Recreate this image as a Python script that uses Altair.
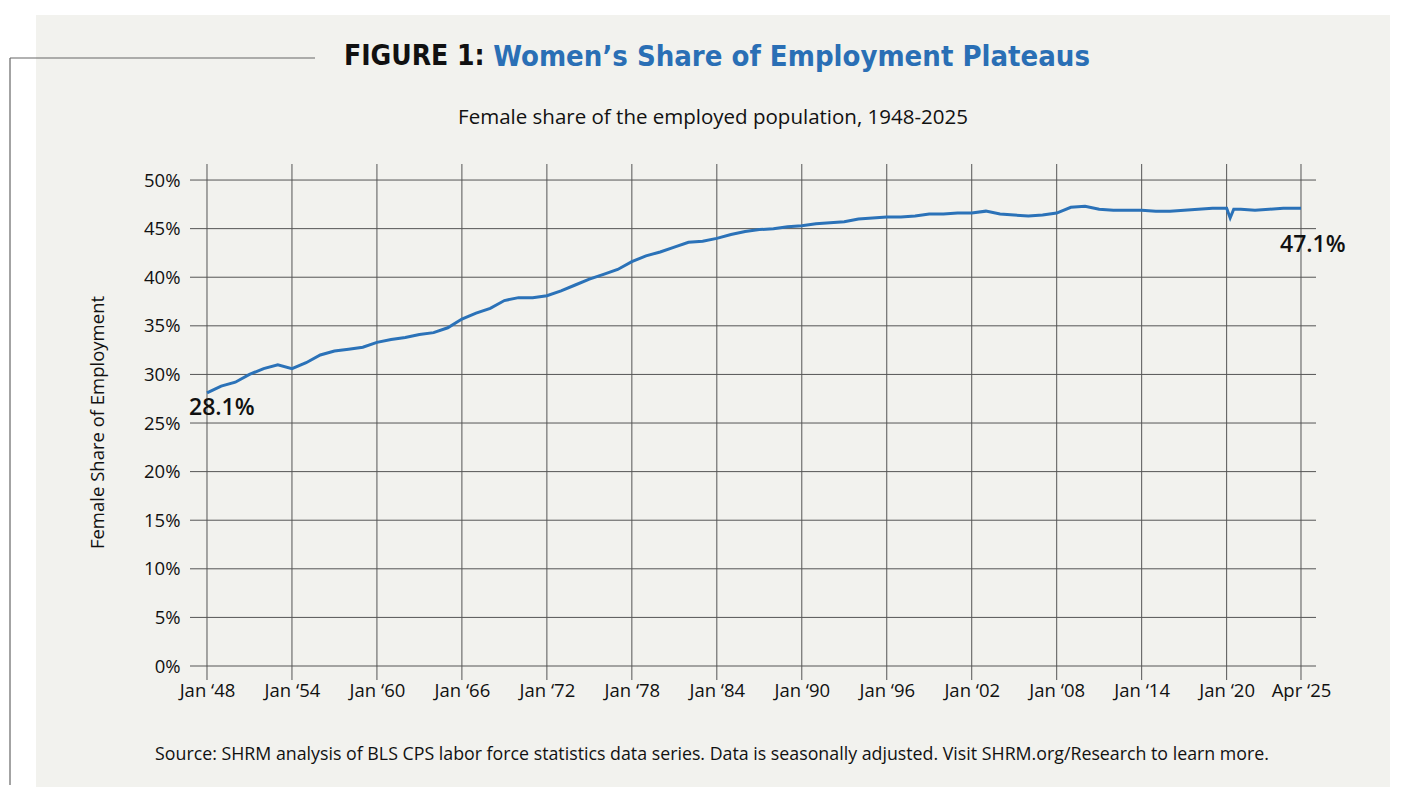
import altair as alt
import pandas as pd

years = [1948, 1949, 1950, 1951, 1952, 1953, 1954, 1955, 1956, 1957, 1958, 1959,
         1960, 1961, 1962, 1963, 1964, 1965, 1966, 1967, 1968, 1969, 1970, 1971,
         1972, 1973, 1974, 1975, 1976, 1977, 1978, 1979, 1980, 1981, 1982, 1983,
         1984, 1985, 1986, 1987, 1988, 1989, 1990, 1991, 1992, 1993, 1994, 1995,
         1996, 1997, 1998, 1999, 2000, 2001, 2002, 2003, 2004, 2005, 2006, 2007,
         2008, 2009, 2010, 2011, 2012, 2013, 2014, 2015, 2016, 2017, 2018, 2019,
         2020, 2020.25, 2020.5, 2021, 2022, 2023, 2024, 2025.25]
share = [28.1, 28.8, 29.2, 30.0, 30.6, 31.0, 30.6, 31.2, 32.0, 32.4, 32.6, 32.8,
         33.3, 33.6, 33.8, 34.1, 34.3, 34.8, 35.7, 36.3, 36.8, 37.6, 37.9, 37.9,
         38.1, 38.6, 39.2, 39.8, 40.3, 40.8, 41.6, 42.2, 42.6, 43.1, 43.6, 43.7,
         44.0, 44.4, 44.7, 44.9, 45.0, 45.2, 45.3, 45.5, 45.6, 45.7, 46.0, 46.1,
         46.2, 46.2, 46.3, 46.5, 46.5, 46.6, 46.6, 46.8, 46.5, 46.4, 46.3, 46.4,
         46.6, 47.2, 47.3, 47.0, 46.9, 46.9, 46.9, 46.8, 46.8, 46.9, 47.0, 47.1,
         47.1, 46.1, 47.0, 47.0, 46.9, 47.0, 47.1, 47.1]

x_ticks = [1948, 1954, 1960, 1966, 1972, 1978, 1984, 1990, 1996, 2002, 2008, 2014, 2020, 2025.25]
y_ticks = [0, 5, 10, 15, 20, 25, 30, 35, 40, 45, 50]

FONT = "Open Sans"
TFONT = "DejaVu Sans Condensed"
W, H = 1126, 516
xs = alt.Scale(domain=[1946.8, 2026.31], nice=False, zero=False)
ys = alt.Scale(domain=[-1.44, 51.65], nice=False, zero=False)

x_axis = alt.Axis(values=x_ticks, grid=False, ticks=False, domain=False, title=None, zindex=2,
                  labelExpr="datum.value > 2025 ? 'Apr \u201825' : 'Jan \u2018' + substring(toString(datum.value), 2, 4)",
                  labelFont=FONT, labelFontSize=18.5, labelColor="#111", labelPadding=1)
y_axis = alt.Axis(values=y_ticks, grid=False, ticks=False, domain=False, zindex=2,
                  labelExpr="datum.value + '%'", labelFont=FONT, labelFontSize=18.5,
                  labelColor="#111", labelPadding=10,
                  title="Female Share of Employment", titleFont=FONT, titleFontSize=18.5,
                  titleFontWeight="normal", titleColor="#111", titlePadding=36)

df = pd.DataFrame({"year": years, "share": share})
one = pd.DataFrame({"a": [0]})

panel = alt.Chart(one).mark_rect(color="#f2f2ee").encode(
    x=alt.value(-154), x2=alt.value(1200), y=alt.value(-149), y2=alt.value(623))

deco_h = alt.Chart(one).mark_rule(color="#666", strokeWidth=1.2).encode(
    x=alt.value(-180), x2=alt.value(125), y=alt.value(-106))
deco_v = alt.Chart(one).mark_rule(color="#666", strokeWidth=1.2).encode(
    x=alt.value(-180), y=alt.value(-106), y2=alt.value(621))

vgrid = alt.Chart(pd.DataFrame({"t": x_ticks})).mark_rule(color="#555", strokeWidth=1).encode(
    x=alt.X("t:Q", scale=xs, axis=x_axis), y=alt.value(0), y2=alt.value(H))
hgrid = alt.Chart(pd.DataFrame({"v": y_ticks})).mark_rule(color="#555", strokeWidth=1).encode(
    y=alt.Y("v:Q", scale=ys, axis=y_axis), x=alt.value(0), x2=alt.value(W))

line = alt.Chart(df).mark_line(color="#2b72b8", strokeWidth=3).encode(
    x=alt.X("year:Q", scale=xs, axis=x_axis),
    y=alt.Y("share:Q", scale=ys, axis=y_axis),
)

first = df.iloc[[0]]
last = df.iloc[[-1]]
lab1 = alt.Chart(first).mark_text(font=FONT, fontSize=23, fontWeight=600, align="left",
                                  dx=-18, dy=15, color="#111").encode(
    x=alt.X("year:Q", scale=xs), y=alt.Y("share:Q", scale=ys), text=alt.value("28.1%"))
lab2 = alt.Chart(last).mark_text(font=FONT, fontSize=23, fontWeight=600, align="left",
                                 dx=-21, dy=37, color="#111").encode(
    x=alt.X("year:Q", scale=xs), y=alt.Y("share:Q", scale=ys), text=alt.value("47.1%"))

t1 = alt.Chart(one).mark_text(font=TFONT, fontSize=28, fontWeight="bold",
                              align="left", baseline="middle", color="#111").encode(
    x=alt.value(154), y=alt.value(-107), text=alt.value("FIGURE 1:"))
t2 = alt.Chart(one).mark_text(font=TFONT, fontSize=29, fontWeight="bold",
                              align="right", baseline="middle", color="#2a6fb5").encode(
    x=alt.value(900), y=alt.value(-107), text=alt.value("Women\u2019s Share of Employment Plateaus"))
sub = alt.Chart(one).mark_text(font=FONT, fontSize=20.5, baseline="middle", color="#111").encode(
    x=alt.value(523), y=alt.value(-46), text=alt.value("Female share of the employed population, 1948-2025"))
src = alt.Chart(one).mark_text(font=FONT, fontSize=17.8, baseline="middle", color="#111").encode(
    x=alt.value(522), y=alt.value(591),
    text=alt.value("Source: SHRM analysis of BLS CPS labor force statistics data series. Data is seasonally adjusted. Visit SHRM.org/Research to learn more."))

chart = alt.layer(panel, deco_h, deco_v, vgrid, hgrid, line, lab1, lab2, t1, t2, sub, src).properties(
    width=W, height=H,
    autosize=alt.AutoSizeParams(type="none"),
    padding={"left": 182, "top": 156, "right": 78, "bottom": 120},
    background="white",
).configure_view(stroke=None)

chart.save("out.html", embed_options={"renderer": "svg", "actions": False})
